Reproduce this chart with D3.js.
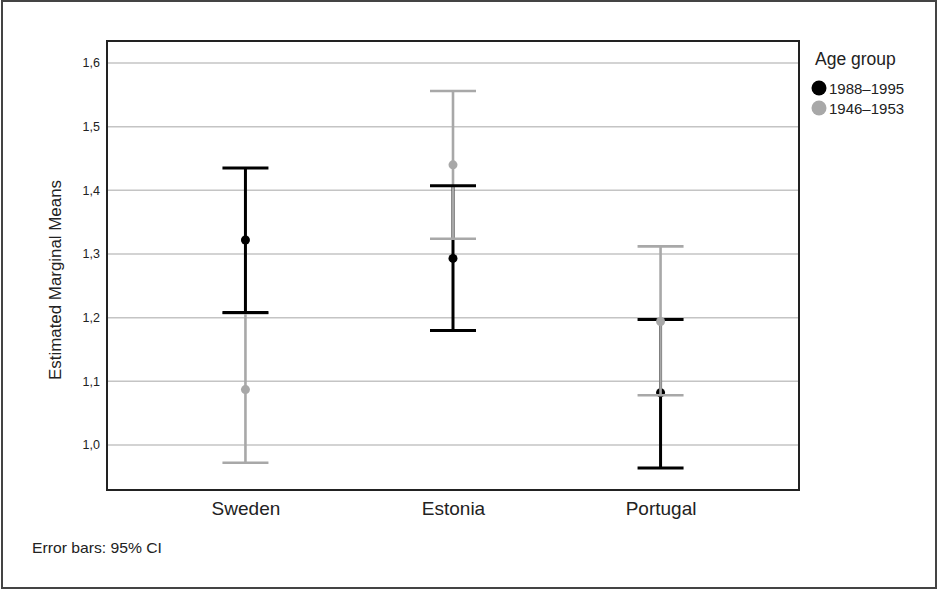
<!DOCTYPE html>
<html>
<head>
<meta charset="utf-8">
<script src="https://cdn.jsdelivr.net/npm/d3@7"></script>
<style>
	body { margin: 0; background: #fff; }
	text { font-family: "Liberation Sans", Arial, sans-serif; fill: #222; }
</style>
</head>
<body>
<svg id="chart" width="938" height="590"></svg>
<script>
// data
var countries = ["Sweden", "Estonia", "Portugal"];
var groups = ["1988\u20131995", "1946\u20131953"];
var groupColors = ["#000000", "#a8a8a8"];
// means and 95% CI bounds, one array per age group, in country order
var meanYoung = [1.322, 1.293, 1.082];
var lowYoung = [1.208, 1.180, 0.964];
var highYoung = [1.435, 1.407, 1.197];
var meanOld = [1.087, 1.440, 1.194];
var lowOld = [0.972, 1.324, 1.078];
var highOld = [1.207, 1.556, 1.312];
var yTicks = [1.0, 1.1, 1.2, 1.3, 1.4, 1.5, 1.6];

var svg = d3.select('#chart');
var plot = {left: 107, top: 41, right: 799, bottom: 490};

var x = d3.scalePoint().domain(countries).range([plot.left, plot.right]).padding(0.667);
var y = d3.scaleLinear().domain([0.9293, 1.6345]).range([plot.bottom, plot.top]);

// outer frame
svg.append('rect')
	.attr('x', 2).attr('y', 1).attr('width', 934).attr('height', 587)
	.attr('fill', '#fff').attr('stroke', '#444').attr('stroke-width', 2);

// grid lines
svg.append('g').selectAll('line').data(yTicks).enter().append('line')
	.attr('x1', plot.left).attr('x2', plot.right)
	.attr('y1', function(d) {return y(d)}).attr('y2', function(d) {return y(d)})
	.attr('stroke', '#c4c4c4').attr('stroke-width', 1.5);

// y axis tick labels
var yAxis = d3.axisLeft(y).tickValues(yTicks).tickSize(0).tickPadding(6)
	.tickFormat(function(d) {return d3.format('.1f')(d).replace('.', ',')});
svg.append('g').attr('transform', 'translate(' + (plot.left - 1) + ',0)').call(yAxis)
	.call(function(g) {g.select('.domain').remove()})
	.selectAll('text').attr('font-size', 12.5).attr('fill', '#444')
	.attr('font-family', '"Liberation Sans", Arial, sans-serif');

// x axis labels
var xAxis = d3.axisBottom(x).tickSize(0).tickPadding(12);
svg.append('g').attr('transform', 'translate(0,' + plot.bottom + ')').call(xAxis)
	.call(function(g) {g.select('.domain').remove()})
	.selectAll('text').attr('font-size', 19).attr('fill', '#333')
	.attr('font-family', '"Liberation Sans", Arial, sans-serif');

// error bars
var series = [
	{name: groups[0], color: groupColors[0], mean: meanYoung, low: lowYoung, high: highYoung, width: 3},
	{name: groups[1], color: groupColors[1], mean: meanOld, low: lowOld, high: highOld, width: 2.6}
];
var capHalf = 23;
series.forEach(function(s) {
	s.rows = countries.map(function(c, i) {
		return {c: c, mean: s.mean[i], low: s.low[i], high: s.high[i]};
	});
});
var layer = {
	stems: svg.append('g'),
	blackDots: svg.append('g'),
	greyStems: svg.append('g'),
	greyCaps: svg.append('g'),
	blackCaps: svg.append('g'),
	greyDots: svg.append('g')
};

function drawStems(g, s) {
	g.selectAll('line').data(s.rows).enter().append('line')
		.attr('x1', function(d) {return x(d.c)}).attr('x2', function(d) {return x(d.c)})
		.attr('y1', function(d) {return y(d.low)}).attr('y2', function(d) {return y(d.high)})
		.attr('stroke', s.color).attr('stroke-width', s.width);
}
function drawCaps(g, s) {
	['low', 'high'].forEach(function(k) {
		g.selectAll('line.cap-' + k).data(s.rows).enter().append('line')
			.attr('class', 'cap-' + k)
			.attr('x1', function(d) {return x(d.c) - capHalf}).attr('x2', function(d) {return x(d.c) + capHalf})
			.attr('y1', function(d) {return y(d[k])}).attr('y2', function(d) {return y(d[k])})
			.attr('stroke', s.color).attr('stroke-width', s.width);
	});
}
function drawDots(g, s) {
	g.selectAll('circle').data(s.rows).enter().append('circle')
		.attr('cx', function(d) {return x(d.c)}).attr('cy', function(d) {return y(d.mean)})
		.attr('r', 4.5).attr('fill', s.color);
}
drawStems(layer.stems, series[0]);
drawDots(layer.blackDots, series[0]);
drawStems(layer.greyStems, series[1]);
drawCaps(layer.greyCaps, series[1]);
drawCaps(layer.blackCaps, series[0]);
drawDots(layer.greyDots, series[1]);

// plot frame
svg.append('rect')
	.attr('x', plot.left).attr('y', plot.top)
	.attr('width', plot.right - plot.left).attr('height', plot.bottom - plot.top)
	.attr('fill', 'none').attr('stroke', '#222').attr('stroke-width', 2);

// y axis title
svg.append('text')
	.attr('transform', 'translate(61,280) rotate(-90)')
	.attr('text-anchor', 'middle').attr('font-size', 16.5)
	.attr('textLength', 200).attr('lengthAdjust', 'spacingAndGlyphs')
	.text('Estimated Marginal Means');

// legend
svg.append('text').attr('x', 815).attr('y', 65).attr('font-size', 17.5).text('Age group');
var leg = svg.append('g').selectAll('g').data(groups).enter().append('g')
	.attr('transform', function(d, i) {return 'translate(819,' + (88 + i * 20) + ')'});
leg.append('circle').attr('r', 7.5).attr('fill', function(d, i) {return groupColors[i]});
leg.append('text').attr('x', 10).attr('y', 5.5).attr('font-size', 15).attr('fill', '#333')
	.text(function(d) {return d});

// footnote
svg.append('text').attr('x', 32).attr('y', 553).attr('font-size', 14.5).attr('fill', '#333')
	.attr('textLength', 130).attr('lengthAdjust', 'spacingAndGlyphs')
	.text('Error bars: 95% CI');
</script>
</body>
</html>
